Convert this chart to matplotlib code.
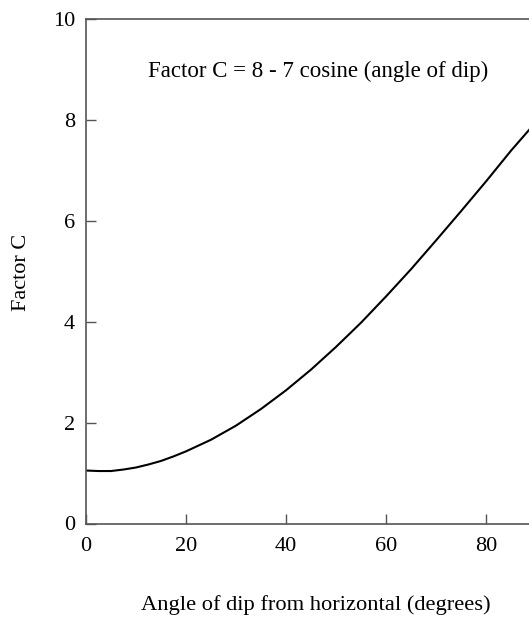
import matplotlib
matplotlib.use("Agg")
import matplotlib.pyplot as plt

# Values
angle = [0, 2.5, 5, 7.5, 10, 12.5, 15, 17.5, 20, 25, 30, 35, 40, 45, 50, 55,
         60, 65, 70, 75, 80, 85, 88.6]
factor_c = [1.05, 1.04, 1.04, 1.07, 1.11, 1.17, 1.24, 1.33, 1.43, 1.66, 1.94,
            2.27, 2.64, 3.05, 3.50, 3.98, 4.50, 5.04, 5.61, 6.19, 6.78, 7.39, 7.80]

x_ticks = [0, 20, 40, 60, 80]
y_ticks = [0, 2, 4, 6, 8, 10]

plt.rcParams['font.family'] = ['Liberation Serif', 'DejaVu Serif']
axis_color = '#555555'

fig = plt.figure(figsize=(5.29, 6.21), dpi=100)
ax = fig.add_axes([86 / 529, 97.5 / 621, 1 - 86 / 529, 504.5 / 621])

ax.plot(angle, factor_c, color='black', linewidth=1.5)

ax.set_xlim(0, 88.6)
ax.set_ylim(0, 10)
ax.set_xticks(x_ticks)
ax.set_yticks(y_ticks)
ax.tick_params(direction='in', length=7, width=1, color=axis_color,
               labelsize=16)
ax.tick_params(axis='x', pad=10)
ax.tick_params(axis='y', pad=8)

for side in ['left', 'bottom', 'top']:
    ax.spines[side].set_color(axis_color)
    ax.spines[side].set_linewidth(1.2)
ax.spines['right'].set_visible(False)

ax.text(46.5, 8.97, "Factor C = 8 - 7 cosine (angle of dip)",
        ha='center', va='center', fontsize=16.5)

ax.set_xlabel("Angle of dip from horizontal (degrees)", fontsize=16.2)
ax.xaxis.set_label_coords(0.519, -0.1615)
ax.xaxis.label.set_va('center')
ax.set_ylabel("Factor C", fontsize=16)
ax.yaxis.set_label_coords(-0.1445, 0.4985)
ax.yaxis.label.set_va('center')

fig.savefig("out.png", dpi=100)
